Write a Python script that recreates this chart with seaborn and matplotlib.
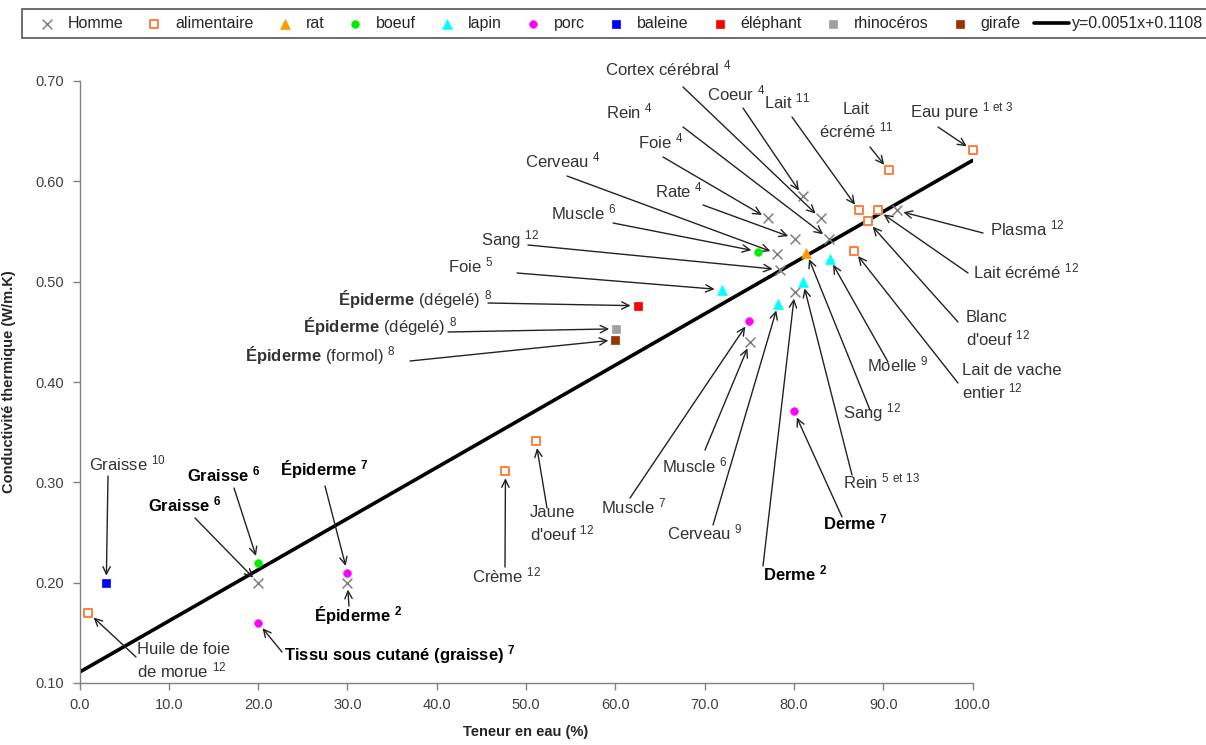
import matplotlib
matplotlib.use('Agg')
import matplotlib.pyplot as plt
from matplotlib.ticker import FormatStrFormatter
import seaborn as sns

# water content (%) and thermal conductivity (W/m.K) per source
homme_eau = [20.0, 30.0, 75.1, 80.1, 78.1, 78.4, 77.1, 80.1, 83.9, 83.0, 81.0, 91.5]
homme_k = [0.200, 0.200, 0.440, 0.490, 0.528, 0.512, 0.563, 0.543, 0.543, 0.563, 0.585, 0.571]
homme_lbl = ['Graisse $^{6}$', 'Épiderme $^{2}$', 'Muscle $^{6}$', 'Derme $^{2}$',
             'Cerveau $^{4}$', 'Sang $^{12}$', 'Foie $^{4}$', 'Rate $^{4}$', 'Rein $^{4}$',
             'Cortex cérébral $^{4}$', 'Coeur $^{4}$', 'Plasma $^{12}$']

alim_eau = [1.0, 47.7, 51.1, 86.7, 87.3, 88.3, 89.4, 90.6, 100.0]
alim_k = [0.170, 0.311, 0.341, 0.531, 0.571, 0.560, 0.571, 0.611, 0.631]
alim_lbl = ['Huile de foie\nde morue $^{12}$', 'Crème $^{12}$', "Jaune\nd'oeuf $^{12}$",
            'Lait de vache\nentier $^{12}$', 'Lait $^{11}$', "Blanc\nd'oeuf $^{12}$",
            'Lait écrémé $^{12}$', 'Lait\nécrémé $^{11}$', r'Eau pure $^{1\ et\ 3}$']

rat_eau = [81.4]
rat_k = [0.529]
rat_lbl = ['Sang $^{12}$']

boeuf_eau = [20.0, 76.0]
boeuf_k = [0.220, 0.530]
boeuf_lbl = ['Graisse $^{6}$', 'Muscle $^{6}$']

lapin_eau = [71.9, 81.0, 78.25, 84.0]
lapin_k = [0.492, 0.500, 0.478, 0.523]
lapin_lbl = ['Foie $^{5}$', r'Rein $^{5\ et\ 13}$', 'Cerveau $^{9}$', 'Moelle $^{9}$']

porc_eau = [20.0, 30.0, 75.0, 80.0]
porc_k = [0.160, 0.210, 0.461, 0.371]
porc_lbl = ['Tissu sous cutané (graisse) $^{7}$', 'Épiderme $^{7}$', 'Muscle $^{7}$', 'Derme $^{7}$']

baleine_eau = [3.0]
baleine_k = [0.200]
baleine_lbl = ['Graisse $^{10}$']

elephant_eau = [62.5]
elephant_k = [0.476]
elephant_lbl = [r'$\mathbf{Épiderme}$ (dégelé) $^{8}$']

rhino_eau = [60.1]
rhino_k = [0.453]
rhino_lbl = [r'$\mathbf{Épiderme}$ (dégelé) $^{8}$']

girafe_eau = [60.0]
girafe_k = [0.442]
girafe_lbl = [r'$\mathbf{Épiderme}$ (formol) $^{8}$']

fit_slope = 0.0051
fit_intercept = 0.1108
fit_range = [0.0, 100.0]

bold_labels = {'Graisse $^{6}$', 'Épiderme $^{2}$', 'Épiderme $^{7}$', 'Derme $^{2}$',
               'Derme $^{7}$', 'Tissu sous cutané (graisse) $^{7}$'}

# label placement in figure pixels (from top-left): text x, baseline y of the
# last line, arrow start x, arrow start y, horizontal alignment
homme_pos = [(148, 511, 195, 518, 'left'), (314, 622, 349, 606, 'left'),
             (662, 472, 705, 450, 'left'), (763, 580, 763, 566, 'left'),
             (525, 167, 567, 176, 'left'), (481, 245, 528, 245, 'left'),
             (638, 148, 663, 157, 'left'), (655, 197, 703, 205, 'left'),
             (606, 118, 683, 127, 'left'), (605, 75, 683, 87, 'left'),
             (707, 100, 743, 108, 'left'), (990, 235, 983, 233, 'left')]
alim_pos = [(137, 677, 136, 657, 'left'), (472, 582, 505, 567, 'left'),
            (530, 540, 547, 508, 'left'), (962, 398, 958, 383, 'left'),
            (764, 108, 792, 117, 'left'), (966, 345, 958, 322, 'left'),
            (973, 278, 968, 273, 'left'), (856, 137, 870, 147, 'center'),
            (910, 117, 938, 127, 'left')]
rat_pos = [(843, 418, 870, 410, 'left')]
boeuf_pos = [(187, 481, 234, 488, 'left'), (551, 219, 613, 223, 'left')]
lapin_pos = [(448, 272, 517, 273, 'left'), (843, 488, 852, 475, 'left'),
             (667, 539, 713, 525, 'left'), (867, 371, 888, 362, 'left')]
porc_pos = [(284, 660, 282, 652, 'left'), (280, 476, 325, 486, 'left'),
            (601, 513, 630, 498, 'left'), (823, 529, 842, 517, 'left')]
baleine_pos = [(89, 470, 108, 476, 'left')]
elephant_pos = [(338, 306, 488, 303, 'left')]
rhino_pos = [(303, 333, 448, 332, 'left')]
girafe_pos = [(245, 362, 410, 361, 'left')]

W, H = 1206, 745

sns.set_theme(style='white')
plt.rcParams['font.family'] = ['Liberation Sans', 'DejaVu Sans']
plt.rcParams['mathtext.fontset'] = 'custom'
plt.rcParams['mathtext.rm'] = 'Liberation Sans'
plt.rcParams['mathtext.bf'] = 'Liberation Sans:bold'
plt.rcParams['mathtext.default'] = 'regular'

fig = plt.figure(figsize=(W / 100, H / 100), dpi=100)
ax = fig.add_axes([79.5 / W, 62 / H, 893 / W, 602 / H])

groups = [
    ('Homme', homme_eau, homme_k, homme_lbl, homme_pos,
     dict(marker='x', color='#808080', s=50, linewidth=1.1)),
    ('alimentaire', alim_eau, alim_k, alim_lbl, alim_pos,
     dict(marker='s', facecolor='white', edgecolor='#FF7F40', s=38, linewidth=1.4)),
    ('rat', rat_eau, rat_k, rat_lbl, rat_pos,
     dict(marker='^', color='#FF9900', edgecolor='#FF9900', s=50, linewidth=0.5)),
    ('boeuf', boeuf_eau, boeuf_k, boeuf_lbl, boeuf_pos,
     dict(marker='o', color='#00EE00', edgecolor='#00EE00', s=30, linewidth=0.5)),
    ('lapin', lapin_eau, lapin_k, lapin_lbl, lapin_pos,
     dict(marker='^', color='#00FFFF', edgecolor='#00FFFF', s=50, linewidth=0.5)),
    ('porc', porc_eau, porc_k, porc_lbl, porc_pos,
     dict(marker='o', color='#FF00FF', edgecolor='#FF00FF', s=30, linewidth=0.5)),
    ('baleine', baleine_eau, baleine_k, baleine_lbl, baleine_pos,
     dict(marker='s', color='#0000FF', edgecolor='#0000FF', s=32, linewidth=0.5)),
    ('éléphant', elephant_eau, elephant_k, elephant_lbl, elephant_pos,
     dict(marker='s', color='#FF0000', edgecolor='#FF0000', s=32, linewidth=0.5)),
    ('rhinocéros', rhino_eau, rhino_k, rhino_lbl, rhino_pos,
     dict(marker='s', color='#A0A0A0', edgecolor='#A0A0A0', s=32, linewidth=0.5)),
    ('girafe', girafe_eau, girafe_k, girafe_lbl, girafe_pos,
     dict(marker='s', color='#993300', edgecolor='#993300', s=32, linewidth=0.5)),
]

# trend line from the equation shown in the legend
fit_y = [fit_intercept + fit_slope * v for v in fit_range]
sns.lineplot(x=fit_range, y=fit_y, ax=ax, color='black', linewidth=2.6,
             label='y=0.0051x+0.1108', zorder=2)

for name, xs, ys, lbls, pos, style in groups:
    sns.scatterplot(x=xs, y=ys, ax=ax, label=name, zorder=3, clip_on=False, **style)
    for x, y, lbl, (tx, ty, sx, sy, ha) in zip(xs, ys, lbls, pos):
        bold = lbl in bold_labels
        fig.text(tx / W, 1 - ty / H, lbl, ha=ha, va='baseline', multialignment=ha,
                 fontsize=12, fontweight='bold' if bold else 'normal',
                 color='black' if bold else '#333333', linespacing=1.2)
        ax.annotate('', xy=(x, y), xycoords='data',
                    xytext=(sx, H - sy), textcoords='figure pixels',
                    arrowprops=dict(arrowstyle='->,head_length=0.45,head_width=0.22',
                                    color='#222222', lw=1, shrinkA=0, shrinkB=5))

ax.set_xlim(0, 100)
ax.set_ylim(0.10, 0.70)
ax.set_xticks(range(0, 101, 10))
ax.set_yticks([0.1, 0.2, 0.3, 0.4, 0.5, 0.6, 0.7])
ax.xaxis.set_major_formatter(FormatStrFormatter('%.1f'))
ax.yaxis.set_major_formatter(FormatStrFormatter('%.2f'))
ax.tick_params(axis='both', which='major', direction='out', length=5, width=1,
               color='#808080', labelcolor='#404040', labelsize=10.5, pad=6,
               bottom=True, left=True)
for side in ['top', 'right']:
    ax.spines[side].set_visible(False)
for side in ['left', 'bottom']:
    ax.spines[side].set_color('#808080')
    ax.spines[side].set_linewidth(1)

ax.set_xlabel('Teneur en eau (%)', fontweight='bold', fontsize=10.5, labelpad=9)
ax.set_ylabel('Conductivité thermique (W/m.K)', fontweight='bold', fontsize=10.5, labelpad=14)

handles, labels = ax.get_legend_handles_labels()
if ax.get_legend() is not None:
    ax.get_legend().remove()
# put the trend line last, like the original legend
handles = handles[1:] + handles[:1]
labels = labels[1:] + labels[:1]
leg = fig.legend(handles, labels, ncol=11, loc='upper left',
                 bbox_to_anchor=(22 / W, 1 - 9 / H), frameon=True, fancybox=False,
                 edgecolor='#555555', framealpha=1, fontsize=11.5,
                 handlelength=2.2, handletextpad=0.2, columnspacing=0.85,
                 borderpad=0.45, borderaxespad=0)
leg.get_frame().set_linewidth(1.2)

fig.savefig('out.png', dpi=100)
